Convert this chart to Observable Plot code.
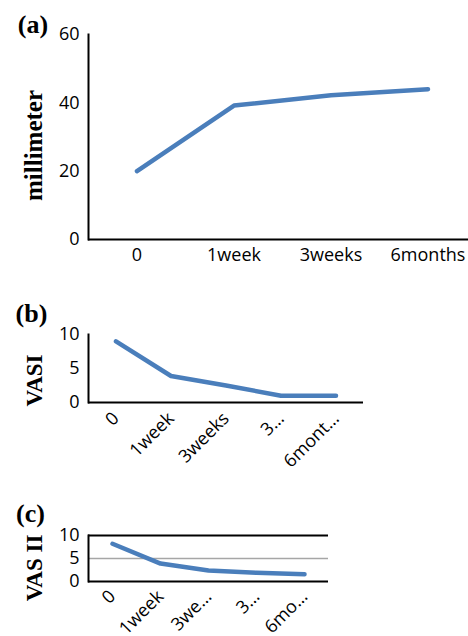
<!DOCTYPE html>
<html><head><meta charset="utf-8">
<script src="https://cdn.jsdelivr.net/npm/d3@7"></script>
<script src="https://cdn.jsdelivr.net/npm/@observablehq/plot@0.6"></script>
<style>
body{margin:0;background:#fff;width:468px;height:636px;overflow:hidden}
.p{position:absolute;left:0}
</style></head><body>
<div class="p" id="a" style="top:0"></div>
<div class="p" id="b" style="top:290px"></div>
<div class="p" id="c" style="top:490px"></div>
<script>
// Panel (a)
const catsA = ["0", "1week", "3weeks", "6months"];
const valsA = [20, 39.2, 42.2, 44];
const ticksA = [0, 20, 40, 60];
// Panel (b)
const catsB = ["0", "1week", "3weeks", "3months", "6months"];
const labelsB = ["0", "1week", "3weeks", "3…", "6mont…"];
const valsB = [9, 3.9, 2.5, 1, 1];
const ticksB = [0, 5, 10];
// Panel (c)
const catsC = ["0", "1week", "3weeks", "3months", "6months"];
const labelsC = ["0", "1week", "3we…", "3…", "6mo…"];
const valsC = [8.2, 3.9, 2.4, 1.9, 1.6];
const ticksC = [0, 5, 10];
const gridC = [5];

const BLUE = "#4a7ebb";
const TICKFONT = "'Open Sans', sans-serif";
const SERIF = "'Liberation Serif', 'Times New Roman', serif";

function panel({cats, labels, vals, ticks, ymax, height, mt, mb, mr, xrange, rotate, pad, tag, tagPos, ylabel, ylabPos, ylabSize, grid}) {
  const data = cats.map((c, i) => ({c, v: vals[i]}));
  const fmt = labels ? (d => labels[cats.indexOf(d)]) : (d => d);
  const marks = [
    Plot.axisY({ticks, tickSize: 0, tickPadding: 9, fontSize: 18, fontFamily: TICKFONT}),
    rotate
      ? Plot.axisX({tickSize: 0, tickRotate: -45, tickPadding: pad, tickFormat: fmt, fontSize: 18, fontFamily: TICKFONT})
      : Plot.axisX({tickSize: 0, tickPadding: 9, tickFormat: fmt, fontSize: 18, fontFamily: TICKFONT}),
  ];
  if (grid) marks.push(Plot.ruleY(grid, {stroke: "#a6a6a6", strokeWidth: 1.5}));
  if (grid) marks.push(Plot.ruleY([ymax], {stroke: "black", strokeWidth: 2}));
  marks.push(
    Plot.frame({anchor: "left", stroke: "black", strokeWidth: 2}),
    Plot.ruleY([0], {stroke: "black", strokeWidth: 2}),
    Plot.line(data, {x: "c", y: "v", stroke: BLUE, strokeWidth: 4.5, strokeLinecap: "round", strokeLinejoin: "round"}),
    Plot.text([tag], {frameAnchor: "top-left", textAnchor: "middle", lineAnchor: "middle", dx: tagPos[0], dy: tagPos[1], fontFamily: SERIF, fontWeight: "bold", fontSize: "26px", fill: "black"}),
    Plot.text([ylabel], {frameAnchor: "left", textAnchor: "middle", lineAnchor: "middle", dx: ylabPos[0], dy: ylabPos[1], rotate: -90, fontFamily: SERIF, fontWeight: "bold", fontSize: ylabSize + "px", fill: "black"})
  );
  return Plot.plot({
    width: 468, height,
    marginTop: mt, marginBottom: mb, marginLeft: 88, marginRight: mr,
    style: {background: "white", color: "black", fontFamily: TICKFONT, fontSize: "18px"},
    x: {type: "band", domain: cats, padding: 0, range: xrange, label: null},
    y: {domain: [0, ymax], label: null},
    marks
  });
}

document.getElementById("a").append(panel({
  cats: catsA, vals: valsA, ticks: ticksA, ymax: 60, height: 290, mt: 34, mb: 51, mr: 0,
  xrange: [88, 476], rotate: false, tag: "(a)", tagPos: [-55.5, -10],
  ylabel: "millimeter", ylabPos: [-55, 8.5], ylabSize: 25
}));
document.getElementById("b").append(panel({
  cats: catsB, labels: labelsB, vals: valsB, ticks: ticksB, ymax: 10, height: 200, mt: 44, mb: 88, mr: 105,
  xrange: [88, 363], rotate: true, pad: 13, tag: "(b)", tagPos: [-57, -21],
  ylabel: "VASI", ylabPos: [-54, 12], ylabSize: 23
}));
document.getElementById("c").append(panel({
  cats: catsC, labels: labelsC, vals: valsC, ticks: ticksC, ymax: 10, height: 146, mt: 45, mb: 55, mr: 140,
  xrange: [88, 328], rotate: true, pad: 12, tag: "(c)", tagPos: [-58, -22],
  ylabel: "VAS II", ylabPos: [-54, 9.5], ylabSize: 23, grid: gridC
}));
</script>
</body></html>
